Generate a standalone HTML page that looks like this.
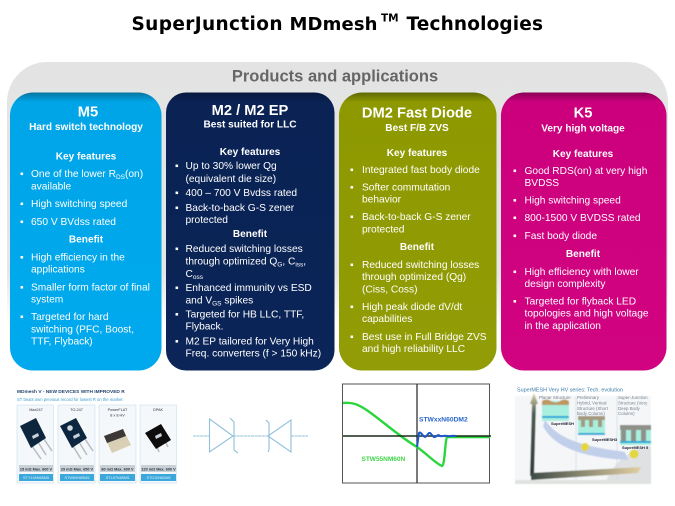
<!DOCTYPE html>
<html><head><meta charset="utf-8"><style>
html,body{margin:0;padding:0;background:#fff;width:675px;height:506px;overflow:hidden}
svg{display:block;font-family:"Liberation Sans",sans-serif}
.c text{fill:#fff;filter:url(#s)}
.h{font-weight:bold;text-anchor:middle;font-size:10.1px}
.t{font-weight:bold;text-anchor:middle;font-size:14.7px}
.l{font-size:10.2px}
.u{font-size:6.5px}
</style></head><body>
<svg width="675" height="506" viewBox="0 0 675 506" xmlns="http://www.w3.org/2000/svg">
<defs>
<linearGradient id="p" x1="0" y1="0" x2="0" y2="1"><stop offset="0" stop-color="#e3e3e3"/><stop offset=".8" stop-color="#e5e6e6"/><stop offset="1" stop-color="#fff"/></linearGradient>
<linearGradient id="a" x1="0" y1="0" x2="0" y2="1"><stop offset="0" stop-color="#06759f"/><stop offset=".035" stop-color="#00a5e8"/><stop offset="1" stop-color="#00a9ee"/></linearGradient>
<linearGradient id="n" x1="0" y1="0" x2="0" y2="1"><stop offset="0" stop-color="#08193c"/><stop offset=".035" stop-color="#0a2254"/><stop offset="1" stop-color="#0b2558"/></linearGradient>
<linearGradient id="o" x1="0" y1="0" x2="0" y2="1"><stop offset="0" stop-color="#5e6800"/><stop offset=".035" stop-color="#8e9900"/><stop offset="1" stop-color="#929c06"/></linearGradient>
<linearGradient id="m" x1="0" y1="0" x2="0" y2="1"><stop offset="0" stop-color="#8a0056"/><stop offset=".035" stop-color="#cc007d"/><stop offset="1" stop-color="#d10380"/></linearGradient>
<linearGradient id="sand" x1="0" y1="0" x2="1" y2="0"><stop offset="0" stop-color="#3e4a45"/><stop offset="1" stop-color="#e2cfa3"/></linearGradient>
<linearGradient id="vs" x1="0" y1="0" x2="0" y2="1"><stop offset="0" stop-color="#e2d6a8"/><stop offset=".25" stop-color="#4d5a52"/><stop offset="1" stop-color="#2f3b38"/></linearGradient>
<filter id="s"><feGaussianBlur stdDeviation=".22"/></filter>
<filter id="b1"><feGaussianBlur stdDeviation=".5"/></filter>
<filter id="b2"><feGaussianBlur stdDeviation=".3"/></filter>
</defs>
<g font-family="'DejaVu Sans',sans-serif" font-weight="bold" fill="#000">
<text x="131.500" y="30" font-size="18.500" textLength="151" lengthAdjust="spacing">SuperJunction</text>
<text x="289.500" y="30" font-size="18" textLength="88" lengthAdjust="spacing">MDmesh</text>
<text x="381" y="21.500" font-size="10.500">TM</text>
<text x="406.500" y="30" font-size="18.500" textLength="136.500" lengthAdjust="spacing">Technologies</text>
</g>
<path d="M7 326V102a40 40 0 0 1 40-40H628a40 40 0 0 1 40 40V326Z" fill="url(#p)"/>
<text x="335" y="81.500" text-anchor="middle" font-size="16.500" font-weight="bold" fill="#666">Products and applications</text>
<rect x="10" y="92.500" width="151.500" height="278" rx="23" fill="url(#a)"/>
<rect x="166" y="92.500" width="168.500" height="278" rx="20" fill="url(#n)"/>
<rect x="339" y="92.500" width="157.500" height="278" rx="23" fill="url(#o)"/>
<rect x="501" y="92.500" width="165.500" height="278" rx="23" fill="url(#m)"/>
<g class="c">
<text class="t" x="88" y="116.500">M5</text>
<text class="h" x="86" y="130">Hard switch technology</text>
<text class="h" x="86" y="159.500">Key features</text>
<g class="l">
<text x="20" y="177">▪</text><text x="31" y="177">One of the lower R<tspan class="u" dy="2">DS</tspan><tspan dy="-2">(on)</tspan></text>
<text x="31" y="189.500">available</text>
<text x="20" y="207">▪</text><text x="31" y="207">High switching speed</text>
<text x="20" y="225">▪</text><text x="31" y="225">650 V BVdss rated</text>
<text x="20" y="260.500">▪</text><text x="31" y="260.500">High efficiency in the</text>
<text x="31" y="272.500">applications</text>
<text x="20" y="290.500">▪</text><text x="31" y="290.500">Smaller form factor of final</text>
<text x="31" y="302.500">system</text>
<text x="20" y="320">▪</text><text x="31" y="320">Targeted for hard</text>
<text x="31" y="332.500">switching (PFC, Boost,</text>
<text x="31" y="344.500">TTF, Flyback)</text>
</g>
<text class="h" x="86" y="242.500">Benefit</text>

<text class="t" x="250" y="115">M2 / M2 EP</text>
<text class="h" x="250" y="127.500">Best suited for LLC</text>
<text class="h" x="250" y="155">Key features</text>
<g class="l">
<text x="175" y="169">▪</text><text x="185.500" y="169">Up to 30% lower Qg</text>
<text x="185.500" y="182">(equivalent die size)</text>
<text x="175" y="196">▪</text><text x="185.500" y="196">400 – 700 V Bvdss rated</text>
<text x="175" y="211">▪</text><text x="185.500" y="211">Back-to-back G-S zener</text>
<text x="185.500" y="223">protected</text>
<text x="175" y="252">▪</text><text x="185.500" y="252">Reduced switching losses</text>
<text x="185.500" y="264.500">through  optimized Q<tspan class="u" dy="2">G</tspan><tspan dy="-2">, C</tspan><tspan class="u" dy="2">iss</tspan><tspan dy="-2">,</tspan></text>
<text x="185.500" y="277">C<tspan class="u" dy="2">oss</tspan></text>
<text x="175" y="291">▪</text><text x="185.500" y="291">Enhanced immunity vs ESD</text>
<text x="185.500" y="303.500">and V<tspan class="u" dy="2">GS</tspan><tspan dy="-2"> spikes</tspan></text>
<text x="175" y="317.500">▪</text><text x="185.500" y="317.500">Targeted for HB LLC, TTF,</text>
<text x="185.500" y="329.500">Flyback.</text>
<text x="175" y="344.500">▪</text><text x="185.500" y="344.500">M2 EP tailored for Very High</text>
<text x="185.500" y="356.500">Freq. converters (f &gt; 150 kHz)</text>
</g>
<text class="h" x="250" y="237">Benefit</text>

<text class="t" x="417" y="117.500">DM2 Fast Diode</text>
<text class="h" x="417" y="131">Best F/B ZVS</text>
<text class="h" x="417" y="156">Key features</text>
<g class="l">
<text x="350" y="173">▪</text><text x="362" y="173">Integrated fast body diode</text>
<text x="350" y="190.500">▪</text><text x="362" y="190.500">Softer commutation</text>
<text x="362" y="202.500">behavior</text>
<text x="350" y="220">▪</text><text x="362" y="220">Back-to-back G-S zener</text>
<text x="362" y="232.500">protected</text>
<text x="350" y="268">▪</text><text x="362" y="268">Reduced switching losses</text>
<text x="362" y="280">through  optimized (Qg)</text>
<text x="362" y="292.500">(Ciss, Coss)</text>
<text x="350" y="310">▪</text><text x="362" y="310">High peak diode dV/dt</text>
<text x="362" y="322">capabilities</text>
<text x="350" y="340">▪</text><text x="362" y="340">Best use in Full Bridge ZVS</text>
<text x="362" y="352">and high reliability LLC</text>
</g>
<text class="h" x="417" y="250">Benefit</text>

<text class="t" x="583" y="117.500">K5</text>
<text class="h" x="583" y="131.500">Very high voltage</text>
<text class="h" x="583" y="157">Key features</text>
<g class="l">
<text x="513" y="174">▪</text><text x="524.500" y="174">Good RDS(on) at very high</text>
<text x="524.500" y="186">BVDSS</text>
<text x="513" y="203.500">▪</text><text x="524.500" y="203.500">High switching speed</text>
<text x="513" y="221">▪</text><text x="524.500" y="221">800-1500 V BVDSS rated</text>
<text x="513" y="239">▪</text><text x="524.500" y="239">Fast body diode</text>
<text x="513" y="275">▪</text><text x="524.500" y="275">High efficiency with  lower</text>
<text x="524.500" y="287">design complexity</text>
<text x="513" y="304.500">▪</text><text x="524.500" y="304.500">Targeted for flyback LED</text>
<text x="524.500" y="316.500">topologies and high voltage</text>
<text x="524.500" y="329">in the application</text>
</g>
<text class="h" x="583" y="257">Benefit</text>
</g>

<!-- product image -->
<g filter="url(#b2)">
<text x="17" y="393" font-size="4.800" font-weight="bold" fill="#23456e">MDmesh V - NEW DEVICES WITH IMPROVED R</text>
<text x="17" y="401" font-size="4.200" fill="#3a9fd0">ST beats own previous record for lowest R on the market</text>
<g fill="#f4f8fb" stroke="#cfe3ef" stroke-width=".7">
<rect x="17" y="405" width="36.500" height="78"/><rect x="58" y="405" width="37" height="78"/><rect x="99" y="405" width="37" height="78"/><rect x="140" y="405" width="36.500" height="78"/>
</g>
<g font-size="3.800" fill="#334" text-anchor="middle">
<text x="36" y="411">Max247</text><text x="76.500" y="411">TO-247</text><text x="117.500" y="411">PowerFLAT</text><text x="117.500" y="416.500">8 x 8 HV</text><text x="158" y="411">DPAK</text>
</g>
<g fill="#c9d0d6">
<rect x="19" y="465" width="34" height="7"/><rect x="60" y="465" width="34" height="7"/><rect x="100" y="465" width="35" height="7"/><rect x="141" y="465" width="35" height="7"/>
</g>
<g font-size="3.800" font-weight="bold" fill="#2a3440" text-anchor="middle">
<text x="36" y="470.500">15 mΩ Max. 600 V</text><text x="77" y="470.500">29 mΩ Max. 650 V</text><text x="117.500" y="470.500">80 mΩ Max. 600 V</text><text x="158.500" y="470.500">220 mΩ Max. 600 V</text>
</g>
<g fill="#3ba7da">
<rect x="19" y="474" width="34" height="7"/><rect x="60" y="474" width="34" height="7"/><rect x="100" y="474" width="35" height="7"/><rect x="141" y="474" width="35" height="7"/>
</g>
<g font-size="3.800" fill="#dff3fb" text-anchor="middle">
<text x="36" y="479">STY145N65M5</text><text x="77" y="479">STW69N65M5</text><text x="117.500" y="479">STL57N65M5</text><text x="158.500" y="479">STD10N60M5</text>
</g>
<g stroke="#b8bcc0" stroke-width="1.500" fill="none">
<path d="M32 446 41 459M38 442 46 455M44 439 52 451"/>
<path d="M73 446 81 459M79 442 87 455M85 439 93 451"/>
<path d="M155 441 159 452M164 439 168 447"/>
</g>
<path d="M20 426 36 418 46 438 31 448Z" fill="#10263c"/>
<path d="M60 426 76 418 87 438 72 448Z" fill="#10283f"/>
<circle cx="70" cy="428" r="2.800" fill="#cfd8dd"/>
<path d="M104 436 123 429 131 445 112 453Z" fill="#d8cfb4"/>
<path d="M104 436 123 429 126 436 107 443Z" fill="#3a3735"/>
<path d="M145 433 161 424 171 440 156 449Z" fill="#0c0c0e"/>
<path d="M32 436 38 433 39 436 33 439Z M73 436 79 433 80 436 74 439Z M155 436 161 433 162 436 156 439Z" fill="#c9d3da"/>
</g>

<!-- diodes -->
<g fill="none" stroke="#92c0d8" stroke-width="1.100" filter="url(#b2)">
<path d="M193 436H209.500M233 436H268M291 436H308" stroke-dasharray="3 .6"/>
<path d="M209.500 419V452L233 436Z"/>
<path d="M291 420V452L268 436Z"/>
<path d="M230 418 234 422V450L238 453M266 420 269 423V450L268 452"/>
</g>

<!-- graph -->
<rect x="342.500" y="384" width="147" height="99" fill="#fff" stroke="#555" stroke-width="1"/>
<path d="M417 384V483" stroke="#333" stroke-width="1.300"/>
<path d="M343 403C352 402 358 404 368 411C385 423 400 437 417 447C427 454 435 463 442 466C445 465 445 440 447 437H490" fill="none" stroke="#2bd63c" stroke-width="2.400" filter="url(#b2)"/>
<path d="M343 436H491" stroke="#1a2a1a" stroke-width="1.400"/>
<path d="M417 447 419 433C421 431 423 437 425 437 427 437 428 432 430 433 432 434 433 438 435 437 437 436 438 434 440 436 442 437 444 435 447 436 449 437 452 435 456 436" fill="none" stroke="#1f57c8" stroke-width="2" filter="url(#b2)"/>
<text x="419" y="421.500" font-size="6.700" font-weight="bold" fill="#2a66cc">STWxxN60DM2</text>
<text x="361.500" y="461" font-size="6.500" font-weight="bold" fill="#3fd44a">STW55NM60N</text>

<!-- tech evolution -->
<g filter="url(#b1)">
<rect x="515" y="396" width="136" height="88" fill="#f4f6f8"/>
<path d="M605 484C612 462 632 448 651 446V484Z" fill="#dfe1e2"/>
<path d="M576 396V480M617 396V480" stroke="#c7dbe6" stroke-width=".7"/>
<path d="M545 420C560 442 590 447 625 452L628 460C590 458 555 450 543 426Z" fill="#c2cfea"/>
<rect x="542" y="401" width="27" height="20" fill="#a8efe0"/><path d="M542 401q4-3 9 0t9 0t9 0v4h-27Z" fill="#bd9860"/><rect x="542" y="416" width="27" height="2" fill="#24a7d8"/>
<rect x="578" y="416" width="27" height="18" fill="#a8efe0"/><path d="M578 416h27v4h-3v7h-4v-7h-5v7h-4v-7h-4v7h-4v-7h-3Z" fill="#a49a80"/><rect x="578" y="433" width="27" height="2" fill="#24a7d8"/>
<rect x="620" y="425" width="31" height="20" fill="#a8efe0"/><path d="M620 425h31v5h-5v12h-5v-12h-5v12h-5v-12h-5v12h-5v-12h-1Z" fill="#8f9088"/><rect x="620" y="441" width="31" height="2" fill="#24a7d8"/>
<circle cx="585" cy="447" r="4" fill="#e3d73a"/><circle cx="634" cy="454" r="4.500" fill="#e3d73a"/>
<path d="M534 393 538 404H536L534 476 530 476 532 404H530Z" fill="url(#vs)"/>
<path d="M531 480 638 473 641 467 531 473Z" fill="url(#sand)"/>
<path d="M515 480H651V484H515Z" fill="#e0e2e0"/>
</g>
<g filter="url(#b2)">
<text x="517" y="391.500" font-size="5.400" fill="#3a7ca8">SuperMESH Very HV series: Tech. evolution</text>
<g font-size="4.400" fill="#77838e">
<text x="539" y="399">Planar Structure</text>
<text x="577" y="399">Preliminary</text><text x="577" y="404.500">Hybrid, Vertical</text><text x="577" y="410">Structure (Short</text><text x="577" y="415">Body Column)</text>
<text x="618" y="399">Super-Junction</text><text x="618" y="404.500">Structure (Very</text><text x="618" y="410">Deep Body</text><text x="618" y="415">Column)</text>
</g>
<g font-size="4" font-weight="bold" fill="#223">
<text x="551" y="425">SuperMESH</text><text x="592" y="441">SuperMESH3</text><text x="622" y="449">SuperMESH 5</text>
</g>
</g>
</svg>
</body></html>
